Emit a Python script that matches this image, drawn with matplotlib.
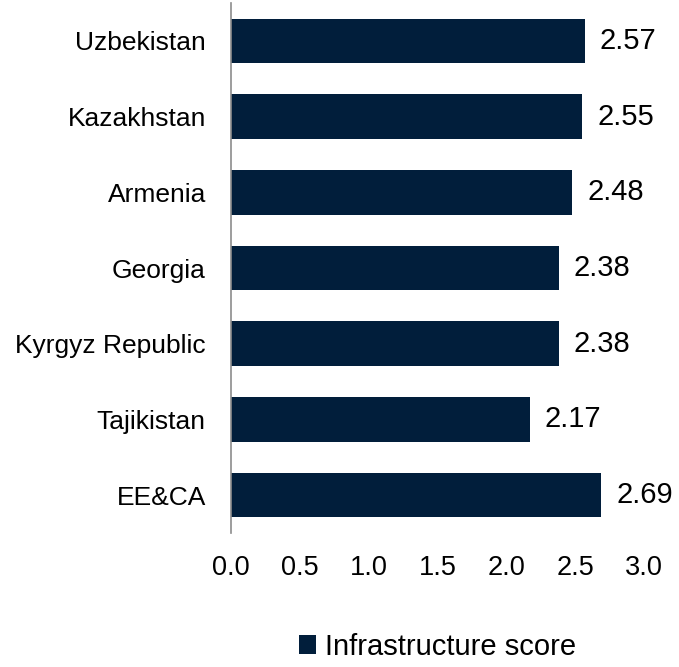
"""Infrastructure score - horizontal bars"""
from matplotlib import pyplot as plt
from matplotlib.patches import Patch

plt.rcParams['font.family'] = ['Liberation Sans', 'DejaVu Sans']

countries = ["Uzbekistan", "Kazakhstan", "Armenia", "Georgia",
             "Kyrgyz Republic", "Tajikistan", "EE&CA"]
scores = [2.57, 2.55, 2.48, 2.38, 2.38, 2.17, 2.69]
xticks = [0.0, 0.5, 1.0, 1.5, 2.0, 2.5, 3.0]

bar_color = "#011e3b"

fig = plt.figure(figsize=(6.79, 6.67), dpi=100)
ax = fig.add_axes([0.340, 0.2009, 0.6085, 0.7946])

ys = list(range(len(countries)))
ax.barh(ys, scores, height=0.59, color=bar_color)

# valores ao lado de cada barra
for y, v in zip(ys, scores):
    ax.text(v + 0.11, y, f"{v:.2f}", va="center", ha="left", fontsize=21)

ax.set_yticks(ys)
ax.set_yticklabels(countries, fontsize=19)
ax.set_ylim(len(countries) - 0.5, -0.5)

ax.set_xlim(0, 3.0)
ax.set_xticks(xticks)
ax.set_xticklabels([f"{t:.1f}" for t in xticks], fontsize=19.5)

ax.tick_params(axis="both", length=0)
ax.tick_params(axis="y", pad=18)
ax.tick_params(axis="x", pad=16)

for s in ["top", "right", "bottom"]:
    ax.spines[s].set_visible(False)
ax.spines["left"].set_color("#8c8c8c")
ax.spines["left"].set_linewidth(1.2)

handle = Patch(facecolor=bar_color, label="Infrastructure score")
fig.legend(handles=[handle], loc="center", bbox_to_anchor=(0.644, 0.03),
           frameon=False, fontsize=21, handlelength=0.6, handleheight=0.6,
           handletextpad=0.3)

fig.savefig("out.png", dpi=100)
